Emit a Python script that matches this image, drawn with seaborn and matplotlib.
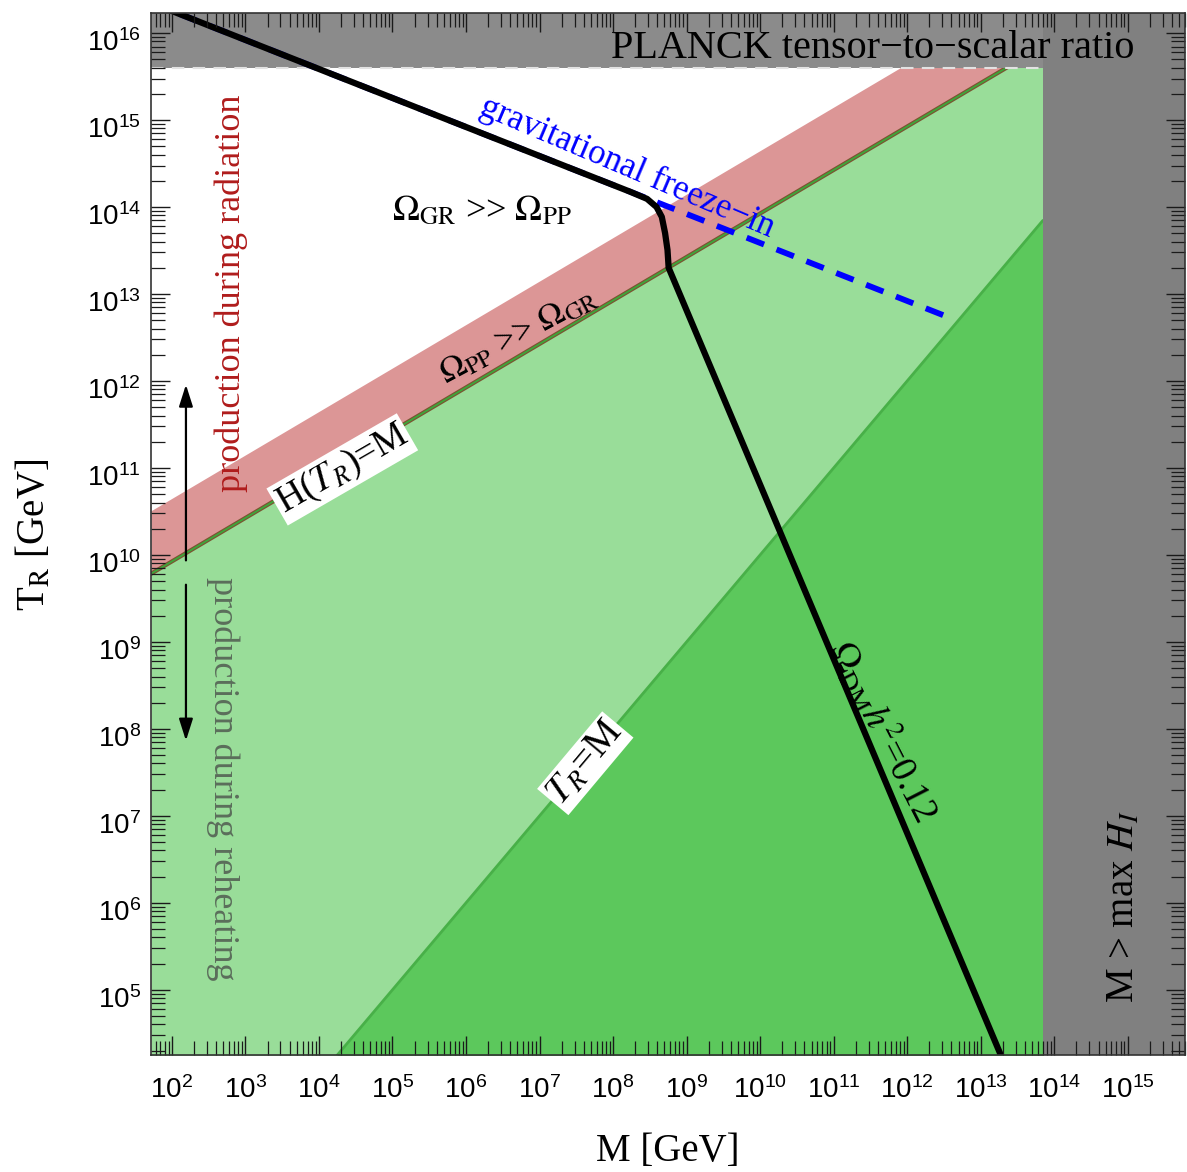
import numpy as np
import pandas as pd
import matplotlib
matplotlib.use("Agg")
import matplotlib.pyplot as plt
import matplotlib.transforms as mtransforms
from matplotlib.ticker import LogLocator, LogFormatterSciNotation, NullFormatter
import seaborn as sns

# ---- axis ranges (GeV) ----
m_range = [5.2e1, 6.0e15]
t_range = [1.78e4, 1.7e16]

# ---- excluded regions ----
t_planck = 4.0e15      # tensor-to-scalar bound on the reheating temperature
m_hinf = 7.0e13        # M above the maximal Hubble rate during inflation

# ---- H(T_R) = M boundary and top of the "production during radiation" band ----
m_hub = [5.2e1, 7.0e13]
t_hub = [6.07e9, 7.05e15]
t_pp = [3.22e10, 3.72e16]

# ---- T_R = M diagonal ----
m_diag = [1.0e4, 7.0e13]
t_diag = [1.0e4, 7.0e13]

# ---- Omega_DM h^2 = 0.12 contour ----
m_relic = [5.0e1, 1.7e8, 2.9e8, 3.9e8, 4.6e8, 5.1e8, 5.5e8, 5.7e8, 2.5e13]
t_relic = [2.26e16, 1.50e14, 1.24e14, 1.00e14, 7.7e13, 5.0e13, 3.2e13, 2.0e13, 1.0e4]

# ---- gravitational freeze-in branch ----
m_grav = [5.0e1, 3.1e12]
t_grav = [2.26e16, 5.7e12]

# ---- tick labels ----
x_decades = list(range(2, 16))
y_decades = list(range(5, 17))

sns.set_theme(style="ticks")
plt.rcParams["font.family"] = ["Liberation Sans", "DejaVu Sans"]
plt.rcParams["mathtext.fontset"] = "stix"

SERIF = ["Liberation Serif", "DejaVu Serif"]

fig = plt.figure(figsize=(11.87, 11.72), dpi=100)
ax = fig.add_axes([151 / 1187, 117 / 1172, 1034 / 1187, 1042 / 1172])
ax.set_xscale("log")
ax.set_yscale("log")
ax.set_xlim(*m_range)
ax.set_ylim(*t_range)

LIGHT_GREEN = "#99dd99"
DARK_GREEN = "#5cc85c"
RED_BAND = "#dc9696"

# regions
ax.fill_between(m_hub, [t_range[0] / 10] * 2, t_hub, color=LIGHT_GREEN, lw=0, zorder=1)
ax.fill_between(m_hub, t_hub, t_pp, color=RED_BAND, lw=0, zorder=1)
ax.fill_between(m_diag, [t_range[0] / 10] * 2, t_diag, color=DARK_GREEN, lw=0, zorder=1.2)

# boundary lines
df_hub = pd.DataFrame({"M": m_hub, "T": t_hub})
sns.lineplot(data=df_hub, x="M", y="T", color="#7a5632", lw=3.0, ax=ax, zorder=1.5)
sns.lineplot(data=df_hub, x="M", y="T", color="#3aaa3a", lw=1.2, ax=ax, zorder=1.6)
df_diag = pd.DataFrame({"M": m_diag, "T": t_diag})
sns.lineplot(data=df_diag, x="M", y="T", color="#48b048", lw=2.0, ax=ax, zorder=1.5)

# excluded bands
ax.axhspan(t_planck, t_range[1] * 10, color="#8b8b8b", lw=0, zorder=3)
ax.axvspan(m_hinf, m_range[1] * 10, color="#808080", lw=0, zorder=3.1)
ax.plot([m_range[0], m_hinf], [t_planck, t_planck], color="#e2e2e2",
        lw=1.5, ls=(0, (6, 4)), zorder=3.2)

# gravitational freeze-in (dashed) and relic-density contour
df_grav = pd.DataFrame({"M": m_grav, "T": t_grav})
sns.lineplot(data=df_grav, x="M", y="T", color="#0000ff", lw=4.2,
             ax=ax, zorder=4, sort=False)
ax.lines[-1].set_dashes([3.2, 2.3])
df_relic = pd.DataFrame({"M": m_relic, "T": t_relic})
sns.lineplot(data=df_relic, x="M", y="T", color="black", lw=4.5,
             ax=ax, zorder=5, sort=False)
ax.lines[-1].set_solid_joinstyle("round")

# annotations
tkw = dict(transform=ax.transAxes, ha="center", va="center",
           rotation_mode="anchor", zorder=6, fontfamily=SERIF)
box = dict(facecolor="white", edgecolor="none", pad=1.5)

ax.text(0.698, 0.966, "PLANCK tensor\u2212to\u2212scalar ratio", fontsize=29, color="black", **tkw)
ax.text(0.460, 0.852, "gravitational freeze\u2212in", fontsize=25, color="#0000ff", rotation=-23, **tkw)
ax.text(0.320, 0.809, r"$\Omega_{\rm GR}$ >> $\Omega_{\rm PP}$", fontsize=26, color="black", **tkw)
ax.text(0.355, 0.690, r"$\Omega_{\rm PP}$ >> $\Omega_{\rm GR}$", fontsize=25, color="black", rotation=28, **tkw)
ax.text(0.185, 0.562, r"H($T_R$)=M", fontsize=27, color="black", rotation=30, bbox=box, **tkw)
ax.text(0.420, 0.280, r"$T_R$=M", fontsize=28, color="black", rotation=50, bbox=box, **tkw)
ax.text(0.708, 0.311, r"$\Omega_{\rm DM}h^2$=0.12", fontsize=27, color="black", rotation=-63, **tkw)
ax.text(0.078, 0.731, "production during radiation", fontsize=26, color="#b01c1c", rotation=90, **tkw)
ax.text(0.069, 0.265, "production during reheating", fontsize=26, color="#5b6e5b", rotation=-90, **tkw)
ax.text(0.941, 0.143, r"M > max $H_I$", fontsize=28, color="black", rotation=90, **tkw)

arrow = dict(arrowstyle="-|>,head_length=1.1,head_width=0.35", color="black", lw=1.6)
ax.annotate("", xy=(0.0338, 0.646), xytext=(0.0338, 0.472), xycoords="axes fraction",
            arrowprops=arrow, zorder=6)
ax.annotate("", xy=(0.0338, 0.299), xytext=(0.0338, 0.454), xycoords="axes fraction",
            arrowprops=arrow, zorder=6)

# axes, ticks and labels
ax.xaxis.set_major_locator(LogLocator(base=10, subs=[1.0], numticks=40))
ax.yaxis.set_major_locator(LogLocator(base=10, subs=[1.0], numticks=40))
ax.xaxis.set_minor_locator(LogLocator(base=10, subs=np.arange(2, 10), numticks=400))
ax.yaxis.set_minor_locator(LogLocator(base=10, subs=np.arange(2, 10), numticks=400))
ax.xaxis.set_major_formatter(LogFormatterSciNotation())
ax.yaxis.set_major_formatter(LogFormatterSciNotation())
ax.xaxis.set_minor_formatter(NullFormatter())
ax.yaxis.set_minor_formatter(NullFormatter())
ax.set_xticks([10.0 ** d for d in x_decades])
ax.set_yticks([10.0 ** d for d in y_decades])
ax.set_xlim(*m_range)
ax.set_ylim(*t_range)

ax.set_axisbelow(False)
ax.xaxis.set_zorder(9)
ax.yaxis.set_zorder(9)
ax.tick_params(which="both", direction="in", top=True, right=True,
               color="#1a1a1a", labelcolor="black")
ax.tick_params(which="major", length=14, width=1.0, labelsize=20)
ax.tick_params(which="minor", length=10, width=0.9)
ax.tick_params(axis="x", which="major", pad=15)
ax.tick_params(axis="y", which="major", pad=7)
for sp in ax.spines.values():
    sp.set_color("#333333")
    sp.set_linewidth(1.2)
    sp.set_zorder(10)

# y tick labels sit slightly below their ticks
shift = mtransforms.ScaledTranslation(0, -7 / 100, fig.dpi_scale_trans)
for lab in ax.get_yticklabels():
    lab.set_transform(lab.get_transform() + shift)

ax.set_xlabel("M [GeV]", fontsize=28, fontfamily=SERIF, color="black")
ax.set_ylabel(r"T$_{\rm R}$ [GeV]", fontsize=28, fontfamily=SERIF, color="black")
ax.xaxis.label.set_va("center")
ax.yaxis.label.set_va("center")
ax.xaxis.set_label_coords(0.5, -0.093)
ax.yaxis.set_label_coords(-0.112, 0.499)

fig.savefig("out.png", dpi=100)
